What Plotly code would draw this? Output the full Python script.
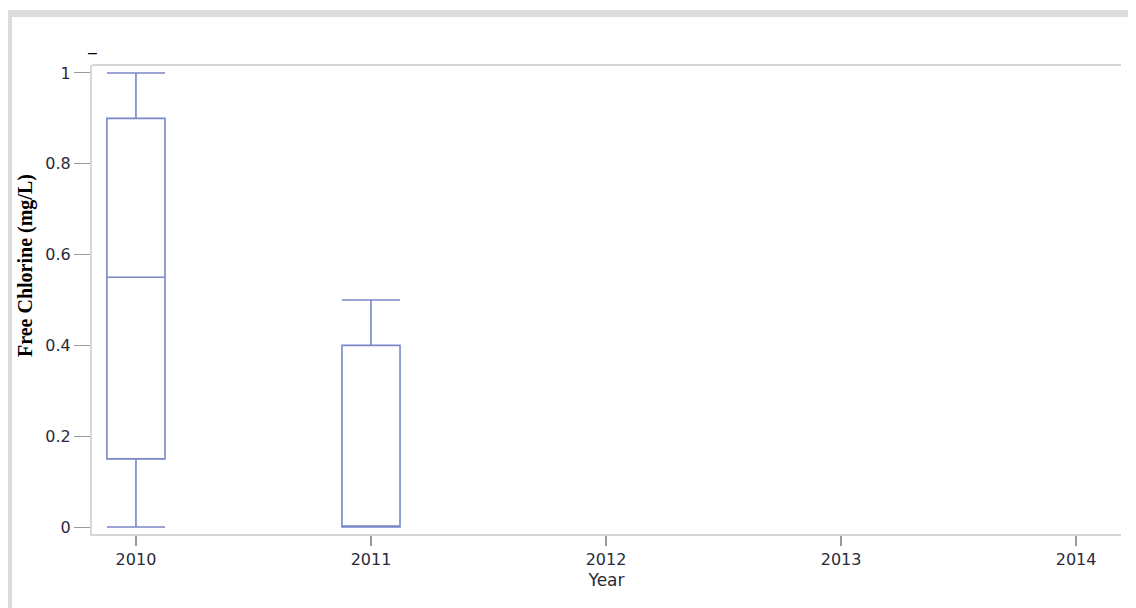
import plotly.graph_objects as go

years = [2010, 2011]
q1 = [0.15, 0.0]
median = [0.55, 0.0]
q3 = [0.9, 0.4]
lower = [0.0, 0.0]
upper = [1.0, 0.5]
x_ticks = [2010, 2011, 2012, 2013, 2014]
y_ticks = [0, 0.2, 0.4, 0.6, 0.8, 1]
y_tick_labels = ["0", "0.2", "0.4", "0.6", "0.8", "1"]

OFF = 8  # page body margin
W, H = 1136 - OFF, 608 - OFF
L, R, T, B = 92 - OFF, 1121 - OFF, 65 - OFF, 534 - OFF

def px(x):
    return (x - OFF - L) / (R - L)

def py(y):
    return (B - (y - OFF)) / (B - T)

fig = go.Figure()
fig.add_trace(go.Box(
    x=years, q1=q1, median=median, q3=q3,
    lowerfence=lower, upperfence=upper,
    boxpoints=False, width=0.247, whiskerwidth=1,
    line=dict(color="rgb(122,134,200)", width=1.6),
    fillcolor="rgba(255,255,255,0)",
    showlegend=False, hoverinfo="skip",
))

tickfont = dict(family="DejaVu Sans, Verdana", size=16, color="#2a2a3a")
fig.update_layout(
    width=W, height=H,
    margin=dict(l=L, r=W - R, t=T, b=H - B),
    paper_bgcolor="white", plot_bgcolor="white",
    xaxis=dict(
        range=[2009.813, 2014.191], tickvals=x_ticks, ticktext=[str(v) for v in x_ticks],
        showgrid=False, zeroline=False, showline=True, linecolor="#d6d6d6", linewidth=2,
        ticks="outside", ticklen=10, tickwidth=1.5, tickcolor="#9a9a9a",
        tickfont=tickfont,
        title=dict(text="Year", font=dict(family="DejaVu Sans, Verdana", size=17, color="#2a2a3a"), standoff=6),
    ),
    yaxis=dict(
        range=[-0.0154, 1.0176], tickvals=y_ticks, ticktext=y_tick_labels,
        showgrid=False, zeroline=False, showline=True, linecolor="#d6d6d6", linewidth=2,
        ticks="outside", ticklen=16, tickwidth=1, tickcolor="#9a9a9a",
        tickfont=tickfont,
    ),
    shapes=[
        dict(type="rect", xref="paper", yref="paper",
             x0=px(5), x1=px(1136), y0=py(17), y1=py(10),
             fillcolor="#dcdcdc", line=dict(width=0), layer="above"),
        dict(type="rect", xref="paper", yref="paper",
             x0=px(5), x1=px(12), y0=py(608), y1=py(10),
             fillcolor="#dcdcdc", line=dict(width=0), layer="above"),
        dict(type="line", xref="paper", yref="paper",
             x0=0, x1=1, y0=1, y1=1, line=dict(color="#d6d6d6", width=2)),
    ],
    annotations=[
        dict(text="<b>Free Chlorine (mg/L)</b>", xref="paper", yref="paper",
             x=px(25), y=py(266), textangle=-90, showarrow=False,
             xanchor="center", yanchor="middle",
             font=dict(family="Liberation Serif, Times New Roman", size=20, color="black")),
        dict(text="–", xref="paper", yref="paper", x=px(92), y=py(52),
             showarrow=False, xanchor="center", yanchor="middle",
             font=dict(family="Liberation Sans, Arial", size=16, color="black")),
    ],
)

fig.write_html("out.html")
